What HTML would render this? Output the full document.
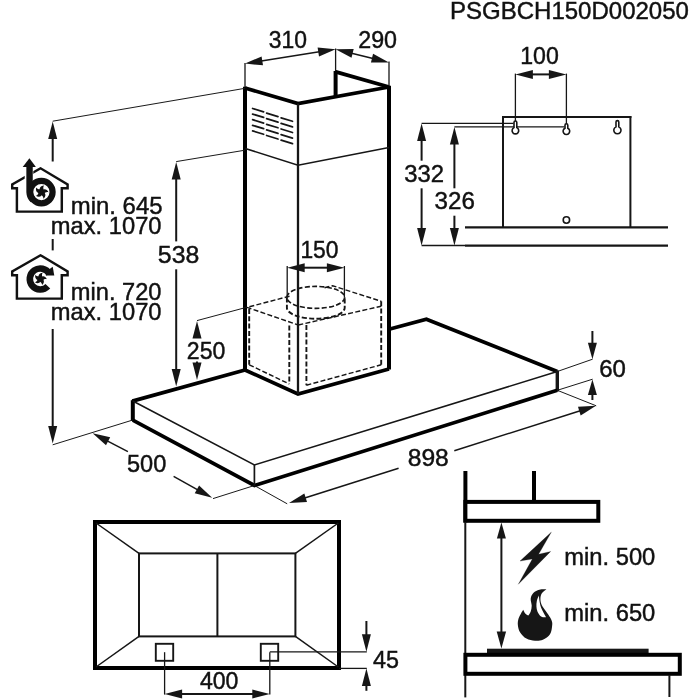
<!DOCTYPE html>
<html><head><meta charset="utf-8"><title>PSGBCH150D002050</title>
<style>html,body{margin:0;padding:0;background:#fff}svg{display:block;will-change:transform}text{font-family:"Liberation Sans",sans-serif;fill:#111;stroke:#111;stroke-width:0.45px}</style>
</head><body>
<svg width="700" height="700" viewBox="0 0 700 700">
<rect width="700" height="700" fill="#fff"/>
<polyline points="245.00,88.00 298.00,103.60 389.00,87.00" fill="none" stroke="#000" stroke-width="3.7" stroke-linejoin="miter" stroke-linecap="butt"/>
<line x1="335.60" y1="96.50" x2="335.60" y2="71.00" stroke="#000" stroke-width="4.0" stroke-linecap="butt"/>
<line x1="335.00" y1="71.60" x2="389.00" y2="87.00" stroke="#000" stroke-width="3.7" stroke-linecap="butt"/>
<line x1="245.00" y1="86.80" x2="245.00" y2="370.50" stroke="#000" stroke-width="4.0" stroke-linecap="butt"/>
<line x1="389.00" y1="85.80" x2="389.00" y2="369.50" stroke="#000" stroke-width="4.0" stroke-linecap="butt"/>
<polyline points="245.00,370.00 298.00,394.00 389.00,369.00" fill="none" stroke="#000" stroke-width="3.7" stroke-linejoin="miter" stroke-linecap="butt"/>
<line x1="298.00" y1="103.60" x2="298.00" y2="394.00" stroke="#161616" stroke-width="2.3" stroke-linecap="butt"/>
<polyline points="245.30,148.50 298.00,165.20 389.00,147.50" fill="none" stroke="#161616" stroke-width="1.52" stroke-linejoin="miter" stroke-linecap="butt"/>
<line x1="252.60" y1="108.50" x2="263.60" y2="111.86" stroke="#161616" stroke-width="1.75" stroke-linecap="round"/>
<line x1="252.60" y1="114.10" x2="263.60" y2="117.45" stroke="#161616" stroke-width="1.75" stroke-linecap="round"/>
<line x1="252.60" y1="119.70" x2="263.60" y2="123.06" stroke="#161616" stroke-width="1.75" stroke-linecap="round"/>
<line x1="252.60" y1="125.30" x2="263.60" y2="128.66" stroke="#161616" stroke-width="1.75" stroke-linecap="round"/>
<line x1="252.60" y1="130.90" x2="263.60" y2="134.26" stroke="#161616" stroke-width="1.75" stroke-linecap="round"/>
<line x1="266.60" y1="113.10" x2="278.00" y2="116.58" stroke="#161616" stroke-width="1.75" stroke-linecap="round"/>
<line x1="266.60" y1="118.70" x2="278.00" y2="122.18" stroke="#161616" stroke-width="1.75" stroke-linecap="round"/>
<line x1="266.60" y1="124.30" x2="278.00" y2="127.78" stroke="#161616" stroke-width="1.75" stroke-linecap="round"/>
<line x1="266.60" y1="129.90" x2="278.00" y2="133.38" stroke="#161616" stroke-width="1.75" stroke-linecap="round"/>
<line x1="266.60" y1="135.50" x2="278.00" y2="138.98" stroke="#161616" stroke-width="1.75" stroke-linecap="round"/>
<line x1="281.10" y1="117.80" x2="292.50" y2="121.28" stroke="#161616" stroke-width="1.75" stroke-linecap="round"/>
<line x1="281.10" y1="123.40" x2="292.50" y2="126.88" stroke="#161616" stroke-width="1.75" stroke-linecap="round"/>
<line x1="281.10" y1="129.00" x2="292.50" y2="132.48" stroke="#161616" stroke-width="1.75" stroke-linecap="round"/>
<line x1="281.10" y1="134.60" x2="292.50" y2="138.08" stroke="#161616" stroke-width="1.75" stroke-linecap="round"/>
<line x1="281.10" y1="140.20" x2="292.50" y2="143.68" stroke="#161616" stroke-width="1.75" stroke-linecap="round"/>
<line x1="132.80" y1="400.20" x2="132.80" y2="421.00" stroke="#000" stroke-width="4.0" stroke-linecap="butt"/>
<line x1="132.30" y1="401.10" x2="245.00" y2="370.00" stroke="#000" stroke-width="3.7" stroke-linecap="butt"/>
<polyline points="389.00,329.20 426.40,319.20 557.30,371.50" fill="none" stroke="#000" stroke-width="3.7" stroke-linejoin="miter" stroke-linecap="butt"/>
<line x1="557.30" y1="370.50" x2="557.30" y2="391.30" stroke="#161616" stroke-width="3.4" stroke-linecap="butt"/>
<polyline points="132.80,420.20 254.40,485.50 557.30,390.30" fill="none" stroke="#000" stroke-width="3.7" stroke-linejoin="miter" stroke-linecap="butt"/>
<polyline points="132.80,401.00 254.40,465.00 557.30,371.50" fill="none" stroke="#161616" stroke-width="1.52" stroke-linejoin="miter" stroke-linecap="butt"/>
<line x1="254.40" y1="465.00" x2="254.40" y2="485.50" stroke="#161616" stroke-width="1.7" stroke-linecap="butt"/>
<polyline points="289.50,296.20 246.90,307.40 298.30,325.00" fill="none" stroke="#161616" stroke-width="1.44" stroke-linejoin="miter" stroke-linecap="butt" stroke-dasharray="5 2.3"/>
<polyline points="324.50,287.80 332.60,285.70 381.20,301.30" fill="none" stroke="#161616" stroke-width="1.44" stroke-linejoin="miter" stroke-linecap="butt" stroke-dasharray="5 2.3"/>
<line x1="298.30" y1="325.00" x2="381.20" y2="306.20" stroke="#161616" stroke-width="1.44" stroke-linecap="butt" stroke-dasharray="5 2.3"/>
<line x1="249.20" y1="309.00" x2="249.20" y2="364.80" stroke="#161616" stroke-width="1.9" stroke-linecap="butt" stroke-dasharray="5 2.3"/>
<line x1="289.30" y1="325.50" x2="289.30" y2="384.00" stroke="#161616" stroke-width="1.9" stroke-linecap="butt" stroke-dasharray="5 2.3"/>
<line x1="306.40" y1="325.00" x2="306.40" y2="385.20" stroke="#161616" stroke-width="1.9" stroke-linecap="butt" stroke-dasharray="5 2.3"/>
<line x1="381.20" y1="301.30" x2="381.20" y2="364.80" stroke="#161616" stroke-width="1.9" stroke-linecap="butt" stroke-dasharray="5 2.3"/>
<line x1="249.20" y1="364.80" x2="289.30" y2="384.00" stroke="#161616" stroke-width="1.44" stroke-linecap="butt" stroke-dasharray="5 2.3"/>
<line x1="306.40" y1="385.20" x2="381.20" y2="364.80" stroke="#161616" stroke-width="1.44" stroke-linecap="butt" stroke-dasharray="5 2.3"/>
<ellipse cx="315.8" cy="297.4" rx="28.9" ry="11.0" fill="none" stroke="#161616" stroke-width="1.6" stroke-dasharray="5 2.3"/>
<path d="M286.90000000000003,297.4 V307.7 A28.9,11.0 0 0 0 344.7,307.7 V297.4" fill="none" stroke="#161616" stroke-width="1.9" stroke-dasharray="5 2.3"/>
<line x1="287.20" y1="266.00" x2="287.20" y2="297.50" stroke="#161616" stroke-width="1.3" stroke-linecap="butt"/>
<line x1="344.40" y1="266.00" x2="344.40" y2="297.50" stroke="#161616" stroke-width="1.3" stroke-linecap="butt"/>
<line x1="303.70" y1="267.70" x2="327.90" y2="267.70" stroke="#161616" stroke-width="2.0" stroke-linecap="butt"/>
<polygon points="344.40,267.70 326.90,272.20 326.90,263.20" fill="#161616"/>
<polygon points="287.20,267.70 304.70,263.20 304.70,272.20" fill="#161616"/>
<line x1="245.00" y1="63.00" x2="245.00" y2="87.00" stroke="#161616" stroke-width="1.3" stroke-linecap="butt"/>
<line x1="335.60" y1="48.50" x2="335.60" y2="71.00" stroke="#161616" stroke-width="1.3" stroke-linecap="butt"/>
<line x1="389.00" y1="61.50" x2="389.00" y2="86.00" stroke="#161616" stroke-width="1.3" stroke-linecap="butt"/>
<line x1="261.30" y1="61.03" x2="319.30" y2="51.87" stroke="#161616" stroke-width="1.52" stroke-linecap="butt"/>
<polygon points="335.60,49.30 319.02,56.47 317.61,47.58" fill="#161616"/>
<polygon points="245.00,63.60 261.58,56.43 262.99,65.32" fill="#161616"/>
<line x1="351.62" y1="53.23" x2="372.98" y2="58.47" stroke="#161616" stroke-width="1.52" stroke-linecap="butt"/>
<polygon points="389.00,62.40 370.93,62.60 373.08,53.86" fill="#161616"/>
<polygon points="335.60,49.30 353.67,49.10 351.52,57.84" fill="#161616"/>
<line x1="52.70" y1="121.20" x2="245.00" y2="88.30" stroke="#161616" stroke-width="0.99" stroke-linecap="butt"/>
<line x1="52.70" y1="161.50" x2="52.70" y2="138.10" stroke="#161616" stroke-width="2.0" stroke-linecap="butt"/>
<polygon points="52.70,121.60 57.20,139.10 48.20,139.10" fill="#161616"/>
<line x1="52.70" y1="239.00" x2="52.70" y2="250.40" stroke="#161616" stroke-width="2.0" stroke-linecap="butt"/>
<line x1="52.70" y1="329.00" x2="52.70" y2="426.90" stroke="#161616" stroke-width="2.0" stroke-linecap="butt"/>
<polygon points="52.70,443.40 48.20,425.90 57.20,425.90" fill="#161616"/>
<line x1="52.70" y1="444.80" x2="132.80" y2="420.00" stroke="#161616" stroke-width="0.99" stroke-linecap="butt"/>
<line x1="176.20" y1="161.60" x2="245.00" y2="150.20" stroke="#161616" stroke-width="0.99" stroke-linecap="butt"/>
<line x1="176.20" y1="241.40" x2="176.20" y2="178.50" stroke="#161616" stroke-width="2.0" stroke-linecap="butt"/>
<polygon points="176.20,162.00 180.70,179.50 171.70,179.50" fill="#161616"/>
<line x1="176.20" y1="269.30" x2="176.20" y2="369.90" stroke="#161616" stroke-width="2.0" stroke-linecap="butt"/>
<polygon points="176.20,386.40 171.70,368.90 180.70,368.90" fill="#161616"/>
<line x1="197.00" y1="320.60" x2="245.50" y2="307.60" stroke="#161616" stroke-width="0.99" stroke-linecap="butt"/>
<polygon points="197.00,321.00 201.50,338.50 192.50,338.50" fill="#161616"/>
<line x1="197.00" y1="361.40" x2="197.00" y2="363.50" stroke="#161616" stroke-width="2.0" stroke-linecap="butt"/>
<polygon points="197.00,380.00 192.50,362.50 201.50,362.50" fill="#161616"/>
<line x1="213.00" y1="498.60" x2="254.40" y2="485.50" stroke="#161616" stroke-width="0.99" stroke-linecap="butt"/>
<line x1="127.90" y1="451.70" x2="107.21" y2="440.86" stroke="#161616" stroke-width="1.52" stroke-linecap="butt"/>
<polygon points="92.60,433.20 110.19,437.34 106.01,445.31" fill="#161616"/>
<line x1="173.60" y1="476.40" x2="197.77" y2="489.80" stroke="#161616" stroke-width="1.52" stroke-linecap="butt"/>
<polygon points="212.20,497.80 194.71,493.25 199.08,485.38" fill="#161616"/>
<line x1="254.40" y1="485.50" x2="287.20" y2="503.80" stroke="#161616" stroke-width="0.99" stroke-linecap="butt"/>
<line x1="557.30" y1="390.30" x2="596.20" y2="405.80" stroke="#161616" stroke-width="0.99" stroke-linecap="butt"/>
<line x1="398.60" y1="468.30" x2="304.73" y2="498.02" stroke="#161616" stroke-width="1.52" stroke-linecap="butt"/>
<polygon points="289.00,503.00 304.33,493.43 307.04,502.01" fill="#161616"/>
<line x1="454.30" y1="450.70" x2="580.27" y2="410.78" stroke="#161616" stroke-width="1.52" stroke-linecap="butt"/>
<polygon points="596.00,405.80 580.68,415.38 577.96,406.80" fill="#161616"/>
<line x1="557.30" y1="371.50" x2="592.60" y2="359.20" stroke="#161616" stroke-width="0.99" stroke-linecap="butt"/>
<line x1="557.30" y1="390.30" x2="592.60" y2="379.20" stroke="#161616" stroke-width="0.99" stroke-linecap="butt"/>
<line x1="592.40" y1="331.00" x2="592.40" y2="343.70" stroke="#161616" stroke-width="2.0" stroke-linecap="butt"/>
<polygon points="592.40,359.20 587.90,342.70 596.90,342.70" fill="#161616"/>
<line x1="592.40" y1="400.00" x2="592.40" y2="393.90" stroke="#161616" stroke-width="2.0" stroke-linecap="butt"/>
<polygon points="592.40,379.40 596.90,394.90 587.90,394.90" fill="#161616"/>
<line x1="503.00" y1="227.40" x2="503.00" y2="116.00" stroke="#161616" stroke-width="2.0" stroke-linecap="butt"/>
<line x1="502.00" y1="117.00" x2="631.40" y2="117.00" stroke="#161616" stroke-width="2.0" stroke-linecap="butt"/>
<line x1="630.40" y1="116.00" x2="630.40" y2="227.40" stroke="#161616" stroke-width="2.0" stroke-linecap="butt"/>
<line x1="465.00" y1="227.40" x2="668.00" y2="227.40" stroke="#161616" stroke-width="2.2" stroke-linecap="butt"/>
<line x1="465.00" y1="245.60" x2="668.00" y2="245.60" stroke="#161616" stroke-width="2.2" stroke-linecap="butt"/>
<line x1="421.60" y1="245.50" x2="465.00" y2="245.50" stroke="#161616" stroke-width="1.3" stroke-linecap="butt"/>
<line x1="421.60" y1="123.40" x2="513.50" y2="123.40" stroke="#161616" stroke-width="1.3" stroke-linecap="butt"/>
<line x1="454.40" y1="126.80" x2="564.50" y2="126.80" stroke="#161616" stroke-width="1.3" stroke-linecap="butt"/>
<line x1="421.60" y1="160.70" x2="421.60" y2="140.10" stroke="#161616" stroke-width="2.0" stroke-linecap="butt"/>
<polygon points="421.60,123.60 426.10,141.10 417.10,141.10" fill="#161616"/>
<line x1="421.60" y1="188.30" x2="421.60" y2="228.90" stroke="#161616" stroke-width="2.0" stroke-linecap="butt"/>
<polygon points="421.60,245.40 417.10,227.90 426.10,227.90" fill="#161616"/>
<line x1="454.40" y1="188.30" x2="454.40" y2="143.50" stroke="#161616" stroke-width="2.0" stroke-linecap="butt"/>
<polygon points="454.40,127.00 458.90,144.50 449.90,144.50" fill="#161616"/>
<line x1="454.40" y1="215.70" x2="454.40" y2="228.90" stroke="#161616" stroke-width="2.0" stroke-linecap="butt"/>
<polygon points="454.40,245.40 449.90,227.90 458.90,227.90" fill="#161616"/>
<line x1="515.40" y1="73.60" x2="515.40" y2="121.50" stroke="#161616" stroke-width="1.3" stroke-linecap="butt"/>
<line x1="566.40" y1="73.60" x2="566.40" y2="124.00" stroke="#161616" stroke-width="1.3" stroke-linecap="butt"/>
<line x1="531.90" y1="74.40" x2="549.90" y2="74.40" stroke="#161616" stroke-width="2.0" stroke-linecap="butt"/>
<polygon points="566.40,74.40 548.90,78.90 548.90,69.90" fill="#161616"/>
<polygon points="515.40,74.40 532.90,69.90 532.90,78.90" fill="#161616"/>
<path d="M514.00,127.61 V122.40 A1.4,1.4 0 0 1 516.80,122.40 V127.61 A3.3,3.3 0 1 1 514.00,127.61 Z" fill="#fff" stroke="#161616" stroke-width="1.6"/>
<path d="M565.00,128.21 V125.20 A1.4,1.4 0 0 1 567.80,125.20 V128.21 A3.3,3.3 0 1 1 565.00,128.21 Z" fill="#fff" stroke="#161616" stroke-width="1.6"/>
<path d="M616.00,126.88 V122.00 A1.4,1.4 0 0 1 618.80,122.00 V126.88 A3.6,3.6 0 1 1 616.00,126.88 Z" fill="#fff" stroke="#161616" stroke-width="1.6"/>
<circle cx="566.4" cy="220.0" r="3.2" fill="#fff" stroke="#161616" stroke-width="1.6"/>
<rect x="95.0" y="522.0" width="244.0" height="146.0" fill="none" stroke="#000" stroke-width="4"/>
<rect x="139.0" y="553.4" width="156.4" height="83.0" fill="none" stroke="#161616" stroke-width="2"/>
<line x1="217.40" y1="553.40" x2="217.40" y2="636.40" stroke="#161616" stroke-width="2.0" stroke-linecap="butt"/>
<line x1="96.00" y1="523.00" x2="139.00" y2="553.40" stroke="#161616" stroke-width="1.52" stroke-linecap="butt"/>
<line x1="338.30" y1="523.00" x2="295.40" y2="553.40" stroke="#161616" stroke-width="1.52" stroke-linecap="butt"/>
<line x1="96.00" y1="667.00" x2="139.00" y2="636.40" stroke="#161616" stroke-width="1.52" stroke-linecap="butt"/>
<line x1="338.30" y1="667.00" x2="295.40" y2="636.40" stroke="#161616" stroke-width="1.52" stroke-linecap="butt"/>
<rect x="155.8" y="643.8" width="17.4" height="17.0" fill="none" stroke="#161616" stroke-width="1.9"/>
<rect x="260.8" y="643.8" width="17.4" height="17.0" fill="none" stroke="#161616" stroke-width="1.9"/>
<line x1="164.60" y1="652.20" x2="164.60" y2="694.60" stroke="#161616" stroke-width="1.3" stroke-linecap="butt"/>
<line x1="269.80" y1="652.20" x2="269.80" y2="694.60" stroke="#161616" stroke-width="1.3" stroke-linecap="butt"/>
<line x1="181.10" y1="694.00" x2="253.30" y2="694.00" stroke="#161616" stroke-width="2.0" stroke-linecap="butt"/>
<polygon points="269.80,694.00 252.30,698.50 252.30,689.50" fill="#161616"/>
<polygon points="164.60,694.00 182.10,689.50 182.10,698.50" fill="#161616"/>
<line x1="269.80" y1="651.90" x2="366.80" y2="651.90" stroke="#161616" stroke-width="1.3" stroke-linecap="butt"/>
<line x1="339.00" y1="668.40" x2="366.80" y2="668.40" stroke="#161616" stroke-width="1.3" stroke-linecap="butt"/>
<line x1="366.40" y1="621.00" x2="366.40" y2="635.30" stroke="#161616" stroke-width="2.0" stroke-linecap="butt"/>
<polygon points="366.40,651.80 361.90,634.30 370.90,634.30" fill="#161616"/>
<line x1="366.40" y1="690.80" x2="366.40" y2="685.00" stroke="#161616" stroke-width="2.0" stroke-linecap="butt"/>
<polygon points="366.40,668.50 370.90,686.00 361.90,686.00" fill="#161616"/>
<line x1="465.40" y1="471.00" x2="465.40" y2="522.40" stroke="#000" stroke-width="4.0" stroke-linecap="butt"/>
<line x1="534.00" y1="471.00" x2="534.00" y2="502.00" stroke="#000" stroke-width="4.0" stroke-linecap="butt"/>
<rect x="465.4" y="501.9" width="132.9" height="18.9" fill="#fff" stroke="#000" stroke-width="4"/>
<line x1="465.30" y1="522.00" x2="465.30" y2="697.40" stroke="#161616" stroke-width="2.0" stroke-linecap="butt"/>
<rect x="487.0" y="648.7" width="161.6" height="5.5" fill="#161616"/>
<rect x="465.4" y="654.8" width="214.4" height="19.0" fill="#fff" stroke="#000" stroke-width="4"/>
<line x1="669.40" y1="675.00" x2="669.40" y2="697.00" stroke="#161616" stroke-width="2.0" stroke-linecap="butt"/>
<line x1="501.40" y1="538.00" x2="501.40" y2="537.60" stroke="#161616" stroke-width="2.0" stroke-linecap="butt"/>
<polygon points="501.40,522.60 505.90,538.60 496.90,538.60" fill="#161616"/>
<line x1="501.40" y1="538.00" x2="501.40" y2="632.60" stroke="#161616" stroke-width="2.0" stroke-linecap="butt"/>
<polygon points="501.40,648.60 496.70,631.60 506.10,631.60" fill="#161616"/>
<polygon points="551.40,532.10 520.00,561.10 532.30,559.00 518.30,584.30 550.70,551.40 538.60,554.30" fill="#161616" stroke="#161616" stroke-width="0.23" stroke-linejoin="miter" stroke-linecap="butt"/>
<path d="M546.43,589.29 C545.64,590.00 542.71,591.90 541.71,593.57 C540.71,595.24 540.43,597.38 540.43,599.29 C540.43,601.19 540.95,603.21 541.71,605.00 C542.48,606.79 543.86,608.33 545.00,610.00 C546.14,611.67 547.45,613.21 548.57,615.00 C549.69,616.79 551.12,618.93 551.71,620.71 C552.31,622.50 552.43,623.45 552.14,625.71 C551.86,627.98 551.55,631.95 550.00,634.29 C548.45,636.62 545.36,638.64 542.86,639.71 C540.36,640.79 537.74,640.90 535.00,640.71 C532.26,640.52 528.93,640.00 526.43,638.57 C523.93,637.14 521.43,634.40 520.00,632.14 C518.57,629.88 518.10,627.26 517.86,625.00 C517.62,622.74 518.02,620.55 518.57,618.57 C519.12,616.60 520.36,614.62 521.14,613.14 C521.93,611.67 522.93,610.29 523.29,609.71 C523.57,610.29 524.17,612.17 525.00,613.14 C525.83,614.12 527.74,615.17 528.29,615.57 C528.69,614.88 530.14,613.07 530.71,611.43 C531.29,609.79 531.71,607.86 531.71,605.71 C531.71,603.57 530.40,600.71 530.71,598.57 C531.02,596.43 532.14,594.33 533.57,592.86 C535.00,591.38 537.14,590.31 539.29,589.71 C541.43,589.12 545.24,589.36 546.43,589.29 Z" fill="#161616"/>
<path d="M538.86,595.43 C538.52,596.31 537.26,598.88 536.86,600.71 C536.45,602.55 536.33,604.64 536.43,606.43 C536.52,608.21 536.76,609.83 537.43,611.43 C538.10,613.02 539.52,615.05 540.43,616.00 C541.33,616.95 541.93,616.95 542.86,617.14 C543.79,617.33 545.48,617.14 546.00,617.14 C545.60,616.43 544.38,614.40 543.57,612.86 C542.76,611.31 541.79,609.64 541.14,607.86 C540.50,606.07 540.10,604.21 539.71,602.14 C539.33,600.07 539.00,596.55 538.86,595.43 Z" fill="#fff"/>
<polygon points="40.60,168.30 12.20,184.40 12.20,188.20 16.90,188.20 16.90,211.60 61.80,211.60 61.80,188.20 67.60,188.20 67.60,184.40" fill="none" stroke="#111" stroke-width="2.45" stroke-linejoin="miter"/>
<line x1="29.0" y1="170" x2="29.0" y2="184" stroke="#fff" stroke-width="8.6"/>
<circle cx="41.4" cy="192.1" r="11.2" fill="#fff" stroke="#111" stroke-width="6.2"/>
<path d="M29.55,165 V192.1 A11.6,11.6 0 0 0 33,200" fill="none" stroke="#111" stroke-width="6.4"/>
<polygon points="29.4,158.2 22.7,166.9 35.9,166.9" fill="#111"/>
<path transform="translate(41.6,192.0) rotate(10) scale(1.0)" d="M-0.6,0.6 C-3.6,-1.8 -3.0,-5.8 1.4,-6.9 C0.4,-5.4 0.9,-3.6 2.2,-1.8 C1.8,-0.4 0.6,0.6 -0.6,0.6 Z" fill="#111"/>
<path transform="translate(41.6,192.0) rotate(82) scale(1.0)" d="M-0.6,0.6 C-3.6,-1.8 -3.0,-5.8 1.4,-6.9 C0.4,-5.4 0.9,-3.6 2.2,-1.8 C1.8,-0.4 0.6,0.6 -0.6,0.6 Z" fill="#111"/>
<path transform="translate(41.6,192.0) rotate(154) scale(1.0)" d="M-0.6,0.6 C-3.6,-1.8 -3.0,-5.8 1.4,-6.9 C0.4,-5.4 0.9,-3.6 2.2,-1.8 C1.8,-0.4 0.6,0.6 -0.6,0.6 Z" fill="#111"/>
<path transform="translate(41.6,192.0) rotate(226) scale(1.0)" d="M-0.6,0.6 C-3.6,-1.8 -3.0,-5.8 1.4,-6.9 C0.4,-5.4 0.9,-3.6 2.2,-1.8 C1.8,-0.4 0.6,0.6 -0.6,0.6 Z" fill="#111"/>
<path transform="translate(41.6,192.0) rotate(298) scale(1.0)" d="M-0.6,0.6 C-3.6,-1.8 -3.0,-5.8 1.4,-6.9 C0.4,-5.4 0.9,-3.6 2.2,-1.8 C1.8,-0.4 0.6,0.6 -0.6,0.6 Z" fill="#111"/>
<circle cx="41.6" cy="192.0" r="1.3" fill="#111"/>
<polygon points="40.60,255.30 12.20,271.40 12.20,275.20 16.90,275.20 16.90,298.60 61.80,298.60 61.80,275.20 67.60,275.20 67.60,271.40" fill="none" stroke="#111" stroke-width="2.45" stroke-linejoin="miter"/>
<path d="M47.85,286.29 A10.5,10.5 0 1 1 49.39,273.75" fill="none" stroke="#111" stroke-width="6.6"/>
<polygon points="52.7,266.8 54.3,275.5 45.8,275.5 47,272 50,268.8" fill="#111"/>
<path transform="translate(40.4,278.8) rotate(10) scale(0.921875)" d="M-0.6,0.6 C-3.6,-1.8 -3.0,-5.8 1.4,-6.9 C0.4,-5.4 0.9,-3.6 2.2,-1.8 C1.8,-0.4 0.6,0.6 -0.6,0.6 Z" fill="#111"/>
<path transform="translate(40.4,278.8) rotate(82) scale(0.921875)" d="M-0.6,0.6 C-3.6,-1.8 -3.0,-5.8 1.4,-6.9 C0.4,-5.4 0.9,-3.6 2.2,-1.8 C1.8,-0.4 0.6,0.6 -0.6,0.6 Z" fill="#111"/>
<path transform="translate(40.4,278.8) rotate(154) scale(0.921875)" d="M-0.6,0.6 C-3.6,-1.8 -3.0,-5.8 1.4,-6.9 C0.4,-5.4 0.9,-3.6 2.2,-1.8 C1.8,-0.4 0.6,0.6 -0.6,0.6 Z" fill="#111"/>
<path transform="translate(40.4,278.8) rotate(226) scale(0.921875)" d="M-0.6,0.6 C-3.6,-1.8 -3.0,-5.8 1.4,-6.9 C0.4,-5.4 0.9,-3.6 2.2,-1.8 C1.8,-0.4 0.6,0.6 -0.6,0.6 Z" fill="#111"/>
<path transform="translate(40.4,278.8) rotate(298) scale(0.921875)" d="M-0.6,0.6 C-3.6,-1.8 -3.0,-5.8 1.4,-6.9 C0.4,-5.4 0.9,-3.6 2.2,-1.8 C1.8,-0.4 0.6,0.6 -0.6,0.6 Z" fill="#111"/>
<circle cx="40.4" cy="278.8" r="1.3" fill="#111"/>
<text transform="translate(450.00,18.60) scale(1.0008,1)" font-size="24.0">PSGBCH150D002050</text>
<text transform="translate(268.85,47.90) scale(0.9538,1)" font-size="24.0">310</text>
<text transform="translate(358.23,47.90) scale(0.9692,1)" font-size="24.0">290</text>
<text transform="translate(520.27,64.10) scale(0.9632,1)" font-size="24.0">100</text>
<text transform="translate(404.21,181.60) scale(0.9947,1)" font-size="24.0">332</text>
<text transform="translate(434.59,209.10) scale(1.0079,1)" font-size="24.0">326</text>
<text transform="translate(157.87,263.10) scale(1.0342,1)" font-size="24.0">538</text>
<text transform="translate(70.80,213.60) scale(0.9967,1)" font-size="24.0">min. 645</text>
<text transform="translate(50.81,233.70) scale(0.9883,1)" font-size="24.0">max. 1070</text>
<text transform="translate(70.81,300.00) scale(0.9857,1)" font-size="24.0">min. 720</text>
<text transform="translate(50.81,320.00) scale(0.9883,1)" font-size="24.0">max. 1070</text>
<text transform="translate(300.39,258.10) scale(0.9526,1)" font-size="24.0">150</text>
<text transform="translate(186.84,358.80) scale(0.9615,1)" font-size="24.0">250</text>
<text transform="translate(599.20,377.40) scale(1.0000,1)" font-size="24.0">60</text>
<text transform="translate(407.67,466.00) scale(1.0289,1)" font-size="24.0">898</text>
<text transform="translate(127.02,472.40) scale(0.9821,1)" font-size="24.0">500</text>
<text transform="translate(199.90,689.30) scale(0.9625,1)" font-size="24.0">400</text>
<text transform="translate(373.00,667.80) scale(0.9731,1)" font-size="24.0">45</text>
<text transform="translate(564.21,564.50) scale(0.9901,1)" font-size="24.0">min. 500</text>
<text transform="translate(564.21,621.10) scale(0.9901,1)" font-size="24.0">min. 650</text>
</svg>
</body></html>
